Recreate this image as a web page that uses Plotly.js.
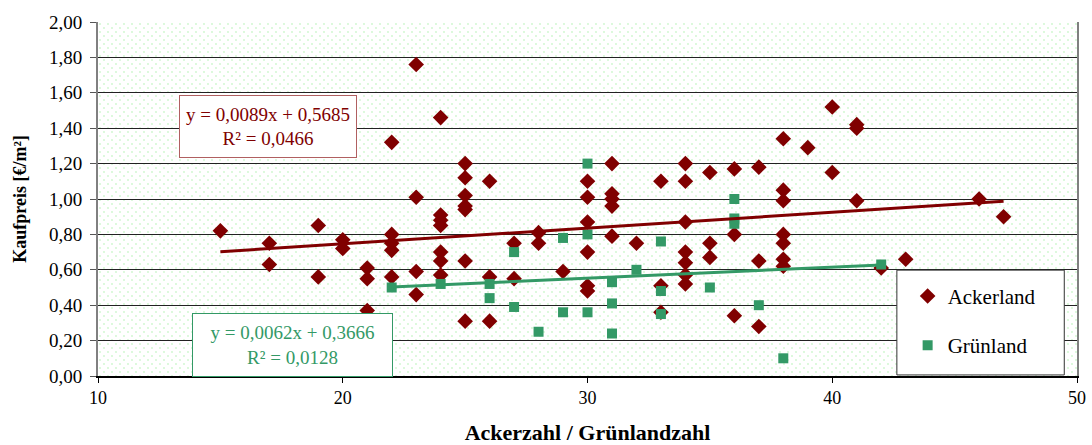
<!DOCTYPE html>
<html>
<head>
<meta charset="utf-8">
<script src="https://cdn.plot.ly/plotly-3.0.1.min.js"></script>
<style>html,body{margin:0;padding:0;background:#fff;}#chart{width:1092px;height:445px;}</style>
</head>
<body>
<div id="chart"></div>
<script>
// ---- Data ----
const ackerX = [15,17,17,19,19,20,20,21,21,21,22,22,22,22,22,23,23,23,23,
  24,24,24,24,24,24,24,25,25,25,25,25,25,25,26,26,26,27,27,28,28,29,
  30,30,30,30,30,30,31,31,31,31,31,32,33,33,33,34,34,34,34,34,34,34,
  35,35,35,36,36,36,37,37,37,38,38,38,38,38,38,38,39,40,40,41,41,41,42,43,46,47];
const ackerY = [0.82,0.75,0.63,0.85,0.56,0.77,0.72,0.61,0.55,0.37,1.32,0.80,0.75,0.71,0.56,1.76,1.01,0.59,0.46,
  1.46,0.91,0.88,0.85,0.70,0.65,0.57,1.20,1.12,1.02,0.96,0.94,0.65,0.31,1.10,0.56,0.31,0.75,0.55,0.81,0.75,0.59,
  1.10,1.01,0.87,0.70,0.51,0.48,1.20,1.03,1.00,0.96,0.79,0.75,1.10,0.51,0.36,1.20,1.10,0.87,0.70,0.64,0.57,0.52,
  1.15,0.75,0.67,1.17,0.80,0.34,1.18,0.65,0.28,1.34,1.05,0.99,0.80,0.75,0.66,0.62,1.29,1.52,1.15,1.42,1.40,0.99,0.61,0.66,1.00,0.90];
const gruenX = [22,24,26,26,27,27,28,29,29,30,30,30,31,31,31,32,33,33,33,35,36,36,36,37,38,42];
const gruenY = [0.50,0.52,0.52,0.44,0.70,0.39,0.25,0.78,0.36,1.20,0.80,0.36,0.53,0.41,0.24,0.60,0.76,0.48,0.35,0.50,1.00,0.89,0.86,0.40,0.10,0.63];
// trend lines (end points)
const ackerTrendX = [15, 47];
const ackerTrendY = [0.702, 0.987];
const gruenTrendX = [22, 42];
const gruenTrendY = [0.503, 0.627];
const seriesNames = ["Ackerland", "Grünland"];
const ackerEq = ["y = 0,0089x + 0,5685", "R² = 0,0466"];
const gruenEq = ["y = 0,0062x + 0,3666", "R² = 0,0128"];
const xTitle = "Ackerzahl / Grünlandzahl";
const yTitle = "Kaufpreis [€/m²]";

// ---- Styling ----
const RED = "#800000", GREEN = "#339966";
const FONT = "Liberation Serif";
const PW = 979, PH = 354;
const svg = `<svg xmlns="http://www.w3.org/2000/svg" width="${PW}" height="${PH}"><defs><pattern id="p" width="8" height="8" patternUnits="userSpaceOnUse"><circle cx="2" cy="2" r="0.9" fill="#cdf6cd"/><circle cx="6" cy="6" r="0.9" fill="#cdf6cd"/></pattern></defs><rect width="100%" height="100%" fill="url(#p)"/></svg>`;
const bgSrc = "data:image/svg+xml;charset=utf-8," + encodeURIComponent(svg);

const traces = [
  {x: ackerX, y: ackerY, type: "scatter", mode: "markers", name: seriesNames[0], legendgroup: "a",
   marker: {symbol: "diamond", size: 12, color: RED}},
  {x: gruenX, y: gruenY, type: "scatter", mode: "markers", name: seriesNames[1], legendgroup: "g",
   marker: {symbol: "square", size: 10, color: GREEN}},
  {x: ackerTrendX, y: ackerTrendY, type: "scatter", mode: "lines", showlegend: false, hoverinfo: "skip",
   line: {color: RED, width: 3}},
  {x: gruenTrendX, y: gruenTrendY, type: "scatter", mode: "lines", showlegend: false, hoverinfo: "skip",
   line: {color: GREEN, width: 3}}
];

const layout = {
  width: 1092, height: 445,
  margin: {l: 98, r: 15, t: 22, b: 69},
  paper_bgcolor: "#ffffff", plot_bgcolor: "#ffffff",
  font: {family: FONT, color: "#000", size: 18},
  showlegend: true,
  legend: {x: 0.827, y: 0.283, xanchor: "left", yanchor: "top", bgcolor: "rgba(0,0,0,0)",
    borderwidth: 0, font: {family: FONT, size: 21, color: "#000"}, tracegroupgap: 19, itemwidth: 30},
  xaxis: {range: [10, 50], dtick: 10, tick0: 10, showgrid: false, zeroline: false,
    showline: true, linecolor: "#000", linewidth: 1.5, ticks: "outside", ticklen: 5, tickcolor: "#000",
    tickfont: {family: FONT, size: 18, color: "#000"},
    title: {text: "<b>" + xTitle + "</b>", font: {family: FONT, size: 22, color: "#000"}, standoff: 26}},
  yaxis: {range: [0, 2], dtick: 0.2, tick0: 0, tickformat: ".2f", showgrid: true, gridcolor: "#222", gridwidth: 1,
    zeroline: false, showline: true, mirror: true, linecolor: "#808080", linewidth: 2,
    ticks: "outside", ticklen: 6, tickcolor: "#555", ticklabelstandoff: 4,
    tickfont: {family: FONT, size: 19, color: "#000"},
    title: {text: "<b>" + yTitle + "</b>", font: {family: FONT, size: 18, color: "#000"}, standoff: 18}},
  separators: ",.",
  images: [{source: bgSrc, xref: "paper", yref: "paper", x: 0, y: 1, sizex: 1, sizey: 1,
    sizing: "stretch", layer: "below", xanchor: "left", yanchor: "top"}],
  shapes: [{type: "rect", xref: "paper", yref: "paper", x0: 0.816, x1: 0.987, y0: 0.003, y1: 0.299,
    fillcolor: "#fff", line: {color: "#333", width: 1}, layer: "above"}],
  annotations: [
    {xref: "x", yref: "y", x: 16.95, y: 1.41, showarrow: false, text: ackerEq.join("<br>"),
     font: {family: FONT, size: 19, color: RED}, align: "center",
     bgcolor: "#fff", bordercolor: "#b06060", borderwidth: 1, borderpad: 2, width: 172, height: 57},
    {xref: "x", yref: "y", x: 17.95, y: 0.175, showarrow: false, text: gruenEq.join("<br>"),
     font: {family: FONT, size: 19, color: GREEN}, align: "center",
     bgcolor: "#fff", bordercolor: GREEN, borderwidth: 1, borderpad: 2, width: 195, height: 58}
  ]
};

Plotly.newPlot("chart", traces, layout, {displayModeBar: false, staticPlot: true});
</script>
</body>
</html>
